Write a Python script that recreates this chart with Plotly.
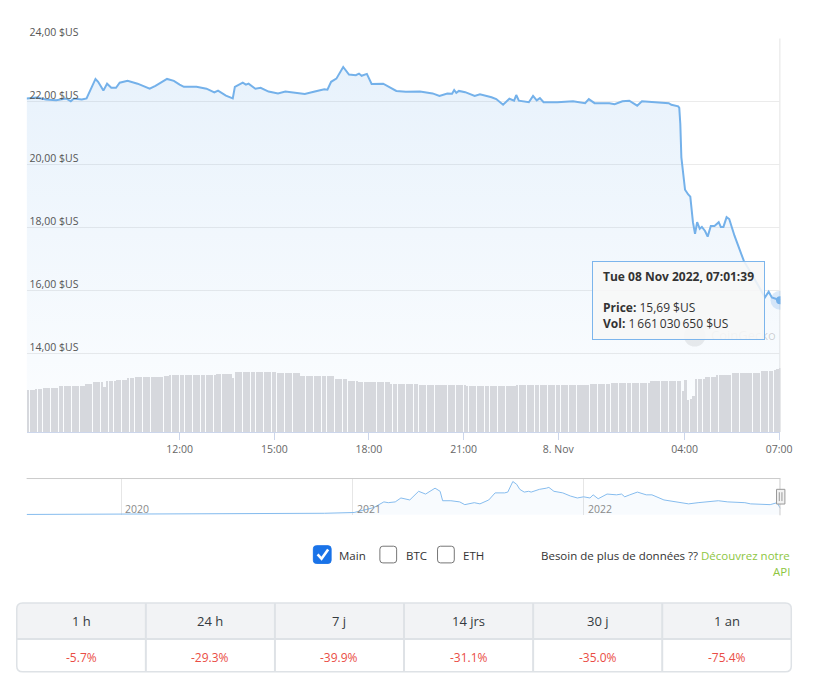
import numpy as np
import pandas as pd
import plotly.graph_objects as go

W, H = 824, 687
FONT = "Open Sans, Noto Sans, DejaVu Sans, sans-serif"
LINE = "#74b1ea"

# ---------------- data ----------------
price_day7 = "2022-11-07"
price_times_d7 = ["07:09", "07:28", "07:46", "08:05", "08:24", "08:33", "08:39", "08:54", "09:03", "09:12",
                  "09:20", "09:25", "09:35", "09:42", "09:50", "09:59", "10:06", "10:21", "10:40", "11:03",
                  "11:14", "11:36", "11:49", "12:00", "12:08", "12:32", "12:51", "13:06", "13:13", "13:28",
                  "13:41", "13:45", "14:00", "14:06", "14:11", "14:24", "14:34", "14:49", "15:07", "15:21",
                  "15:39", "15:58", "16:17", "16:35", "16:41", "16:48", "16:58", "17:03", "17:11", "17:22",
                  "17:35", "17:41", "17:46", "17:56", "18:05", "18:27", "18:52", "19:10", "19:37", "20:01",
                  "20:14", "20:29", "20:38", "20:42", "20:46", "20:51", "21:03", "21:21", "21:31", "21:53",
                  "22:02", "22:15", "22:27", "22:36", "22:40", "22:45", "23:04", "23:12", "23:19", "23:25",
                  "23:32", "23:58"]
price_values_d7 = [22.10, 22.13, 22.07, 22.04, 22.10, 22.01, 22.10, 22.07, 22.10, 22.41,
                   22.72, 22.63, 22.35, 22.57, 22.44, 22.44, 22.60, 22.66, 22.57, 22.41,
                   22.50, 22.72, 22.66, 22.54, 22.47, 22.47, 22.41, 22.29, 22.35, 22.19,
                   22.10, 22.47, 22.60, 22.54, 22.57, 22.41, 22.44, 22.32, 22.26, 22.32,
                   22.29, 22.24, 22.32, 22.39, 22.38, 22.63, 22.73, 22.89, 23.10, 22.86,
                   22.84, 22.89, 22.82, 22.88, 22.56, 22.57, 22.34, 22.31, 22.32, 22.26,
                   22.18, 22.26, 22.25, 22.37, 22.28, 22.34, 22.30, 22.18, 22.23, 22.14,
                   22.08, 21.90, 22.09, 22.03, 22.21, 22.03, 21.98, 22.18, 22.04, 22.11,
                   21.98, 21.98]
price_day8 = "2022-11-08"
price_times_d8 = ["00:28", "00:51", "00:58", "01:09", "01:37", "01:47", "02:02", "02:15", "02:30", "02:39",
                  "03:05", "03:30", "03:35", "03:45", "03:48", "03:50", "03:52", "03:54", "03:58", "04:01",
                  "04:07", "04:11", "04:16", "04:20", "04:24", "04:29", "04:33", "04:39", "04:44", "04:50",
                  "04:57", "05:05", "05:09", "05:14", "05:20", "05:25", "05:35", "05:44", "05:53", "06:10",
                  "06:27", "06:33", "06:40", "06:46", "07:01:39"]
price_values_d8 = [22.01, 21.95, 22.08, 21.95, 21.95, 21.92, 22.01, 22.03, 21.87, 22.01,
                   21.98, 21.95, 21.90, 21.87, 21.85, 21.80, 21.29, 20.23, 19.61, 19.20,
                   19.05, 18.98, 18.17, 17.80, 18.17, 17.96, 18.02, 17.89, 17.71, 18.05,
                   18.05, 18.17, 18.02, 18.02, 18.33, 18.27, 17.74, 17.33, 16.93, 16.46,
                   15.93, 15.78, 15.96, 15.78, 15.69]

# 24h volume (millions $US), 5-minute bars, given as runs of equal height
vol_run_counts = [4, 3, 6, 4, 6, 3, 4, 1, 4, 4, 3, 11, 2, 18, 6, 1, 16, 9, 13, 5, 4, 12, 11, 8, 10,
                  19, 28, 8, 15, 12, 1, 1, 1, 1, 1, 4, 4, 6, 5, 6, 5, 1, 1, 1]
vol_run_values = [1092, 1107, 1132, 1192, 1200, 1242, 1282, 1175, 1325, 1350, 1392, 1425, 1450, 1467,
                  1500, 1408, 1550, 1517, 1442, 1367, 1325, 1300, 1250, 1225, 1207, 1192, 1217, 1250,
                  1275, 1307, 1050, 1342, 825, 857, 942, 1375, 1425, 1467, 1525, 1525, 1575, 1610,
                  1632, 1661.03065]
vol_last_time = "2022-11-08 07:01:39"

# navigator (full history)
nav_dates = ["2019-08-04", "2020-01-01", "2020-04-28", "2020-08-31", "2020-11-17", "2021-01-03",
             "2021-02-03", "2021-02-19", "2021-02-26", "2021-03-09", "2021-03-18", "2021-04-01",
             "2021-04-15", "2021-04-26", "2021-05-11", "2021-05-19", "2021-05-23", "2021-06-05",
             "2021-06-19", "2021-06-27", "2021-07-12", "2021-07-21", "2021-08-04", "2021-08-14",
             "2021-08-29", "2021-09-03", "2021-09-11", "2021-09-17", "2021-09-22", "2021-09-29",
             "2021-10-06", "2021-10-10", "2021-10-23", "2021-11-03", "2021-11-07", "2021-11-15",
             "2021-11-29", "2021-12-11", "2021-12-22", "2022-01-01", "2022-01-11", "2022-01-16",
             "2022-01-24", "2022-02-07", "2022-02-22", "2022-03-02", "2022-03-07", "2022-03-15",
             "2022-03-27", "2022-04-10", "2022-04-19", "2022-05-08", "2022-05-27", "2022-06-16",
             "2022-07-01", "2022-07-17", "2022-08-02", "2022-08-17", "2022-09-13", "2022-09-22",
             "2022-10-23", "2022-11-03", "2022-11-08 07:01:39"]
nav_values = [1.0, 1.5, 2.0, 3.5, 4.0, 6.0,
              18.5, 33, 31, 33, 43, 38,
              60, 53, 68, 60, 36, 36,
              33, 26, 31, 28, 38, 56,
              56, 58, 85, 78, 65, 58,
              60, 58, 65, 68, 70, 60,
              56, 48, 43, 46, 43, 51,
              41, 53, 51, 53, 46, 51,
              58, 51, 51, 38, 33, 28,
              31, 33, 36, 33, 31, 28,
              26, 31, 16]
nav_years = ["2020", "2021", "2022"]

y_tickvals = [14, 16, 18, 20, 22, 24]
y_ticktext = ["14,00 $US", "16,00 $US", "18,00 $US", "20,00 $US", "22,00 $US", "24,00 $US"]
x_tickvals = ["2022-11-07 12:00", "2022-11-07 15:00", "2022-11-07 18:00", "2022-11-07 21:00",
              "2022-11-08 00:00", "2022-11-08 04:00", "2022-11-08 07:00"]
x_ticktext = ["12:00", "15:00", "18:00", "21:00", "8. Nov", "04:00", "07:00"]

series_options = ["Main", "BTC", "ETH"]
series_checked = [True, False, False]

periods = ["1 h", "24 h", "7 j", "14 jrs", "30 j", "1 an"]
changes = [-5.7, -29.3, -39.9, -31.1, -35.0, -75.4]

# ---------------- build ----------------
price_x = [f"{price_day7} {t}" for t in price_times_d7] + [f"{price_day8} {t}" for t in price_times_d8]
price_y = price_values_d7 + price_values_d8
vol_vals = np.repeat(vol_run_values, vol_run_counts)
vol_x = pd.date_range(end=vol_last_time, periods=len(vol_vals), freq="5min")


def px(x):
    return x / W


def py(y):
    return 1 - y / H


fig = go.Figure()
fig.add_trace(go.Scatter(
    x=price_x, y=price_y, mode="lines", line=dict(color=LINE, width=2),
    fill="tozeroy",
    fillgradient=dict(type="vertical", start=11.5, stop=22.6,
                      colorscale=[[0, "rgba(124,181,236,0.02)"], [1, "rgba(124,181,236,0.17)"]]),
    hoverinfo="skip"))
fig.add_trace(go.Bar(x=vol_x, y=vol_vals, yaxis="y2", width=205000,
                     marker=dict(color="#d6d8dd", line=dict(width=0)), hoverinfo="skip"))
fig.add_trace(go.Scatter(x=[price_x[-1]], y=[price_y[-1]], mode="markers",
                         marker=dict(size=19, color="rgba(124,181,236,0.28)"), hoverinfo="skip"))
fig.add_trace(go.Scatter(x=[price_x[-1]], y=[price_y[-1]], mode="markers",
                         marker=dict(size=8, color=LINE), hoverinfo="skip"))
fig.add_trace(go.Scatter(x=nav_dates, y=nav_values, xaxis="x2", yaxis="y3", mode="lines",
                         line=dict(color="#86bcee", width=1), fill="tozeroy",
                         fillcolor="rgba(124,181,236,0.05)", hoverinfo="skip"))

shapes = []
annotations = []


def line(x0, y0, x1, y1, color, width=1):
    shapes.append(dict(type="line", xref="paper", yref="paper", x0=px(x0), y0=py(y0), x1=px(x1), y1=py(y1),
                       line=dict(color=color, width=width), layer="above"))


def rrect_path(x0, y0, x1, y1, r, top_only=False):
    rb = 0 if top_only else r
    return (f"M {px(x0 + r)},{py(y0)} L {px(x1 - r)},{py(y0)} Q {px(x1)},{py(y0)} {px(x1)},{py(y0 + r)} "
            f"L {px(x1)},{py(y1 - rb)} Q {px(x1)},{py(y1)} {px(x1 - rb)},{py(y1)} "
            f"L {px(x0 + rb)},{py(y1)} Q {px(x0)},{py(y1)} {px(x0)},{py(y1 - rb)} "
            f"L {px(x0)},{py(y0 + r)} Q {px(x0)},{py(y0)} {px(x0 + r)},{py(y0)} Z")


def ann(x, y, text, size, color, xanchor="left", yanchor="middle", **kw):
    annotations.append(dict(x=px(x), y=py(y), xref="paper", yref="paper", text=text, showarrow=False,
                            xanchor=xanchor, yanchor=yanchor,
                            font=dict(family=FONT, size=size, color=color), **kw))


# crosshair at hovered point
shapes.append(dict(type="line", xref="x", yref="y domain", x0=price_x[-1], x1=price_x[-1], y0=0, y1=1,
                   line=dict(color="#d9d9d9", width=1), layer="below"))

# watermark logo circle + text (mostly behind the tooltip)
shapes.append(dict(type="circle", xref="paper", yref="paper", x0=px(694), x1=px(716), y0=py(318), y1=py(340),
                   fillcolor="rgba(0,0,0,0.07)", line=dict(width=0), layer="above"))
ann(789, 328, "CoinGecko", 13, "rgba(0,0,0,0.18)", xanchor="right")

# tooltip
last_ts = pd.Timestamp(price_x[-1])
price_txt = f"{price_y[-1]:.2f}".replace(".", ",") + " $US"
vol_txt = f"{int(round(vol_vals[-1] * 1e6)):,}".replace(",", "\u2009") + " $US"
annotations.append(dict(x=px(688.5), y=py(293), xref="paper", yref="paper", text=" ", showarrow=False,
                        width=171, height=77, bgcolor="rgba(247,247,247,0.88)", bordercolor="#7cb5ec",
                        borderwidth=1, borderpad=0, xanchor="center", yanchor="middle"))
ann(610, 268.5, "<b>" + last_ts.strftime("%a %d %b %Y, %H:%M:%S") + "</b>", 12, "#333333")
ann(610, 300, "<b>Price:</b> " + price_txt, 12, "#333333")
ann(610, 316, "<b>Vol:</b> " + vol_txt, 12, "#333333")

# navigator frame
line(27, 474.5, 792, 474.5, "#cccccc", 1)
line(791.5, 474.5, 791.5, 512, "#cccccc", 1)
shapes.append(dict(type="rect", xref="paper", yref="paper", x0=px(788), x1=px(796.5), y0=py(485.5), y1=py(500.5),
                   fillcolor="#f2f2f2", line=dict(color="#999999", width=1), layer="above"))
line(790.8, 488.5, 790.8, 497.5, "#999999", 1)
line(793.5, 488.5, 793.5, 497.5, "#999999", 1)
for yr in nav_years:
    annotations.append(dict(x=f"{yr}-01-01", y=py(505.5), xref="x2", yref="paper", text=yr, showarrow=False,
                            xanchor="left", yanchor="middle", xshift=2,
                            font=dict(family=FONT, size=10.5, color="#8a8a8a")))

# checkboxes
cb_x = [318, 385.5, 444]
for name, checked, x0 in zip(series_options, series_checked, cb_x):
    if checked:
        shapes.append(dict(type="path", xref="paper", yref="paper", path=rrect_path(x0, 543, x0 + 18, 561, 3),
                           fillcolor="#1a73e8", line=dict(color="#1a73e8", width=1), layer="above"))
        shapes.append(dict(type="path", xref="paper", yref="paper",
                           path=f"M {px(x0 + 4.3)},{py(551.8)} L {px(x0 + 8.3)},{py(556.3)} L {px(x0 + 15)},{py(546.8)}",
                           line=dict(color="white", width=2.6), layer="above"))
    else:
        shapes.append(dict(type="path", xref="paper", yref="paper", path=rrect_path(x0, 543.5, x0 + 17, 560.5, 3),
                           fillcolor="white", line=dict(color="#767676", width=1), layer="above"))
    ann(x0 + 24, 552.5, name, 11.5, "#333333")

ann(804, 552.5, "Besoin de plus de données ?? <span style='color:#8dc63f'>Découvrez notre</span>",
    11.5, "#333333", xanchor="right")
ann(804, 569.5, "API", 11.5, "#8dc63f", xanchor="right")

# performance table
tx0, tx1, ty0, tmid, ty1 = 17, 803, 601.5, 638, 671.5
shapes.append(dict(type="path", xref="paper", yref="paper", path=rrect_path(tx0, ty0, tx1, tmid, 6, top_only=True),
                   fillcolor="#f2f3f5", line=dict(width=0), layer="above"))
shapes.append(dict(type="path", xref="paper", yref="paper", path=rrect_path(tx0, ty0, tx1, ty1, 6),
                   fillcolor="rgba(0,0,0,0)", line=dict(color="#dee2e6", width=1.5), layer="above"))
line(tx0, tmid, tx1, tmid, "#dee2e6", 2)
colw = (tx1 - tx0) / len(periods)
for i, (p, c) in enumerate(zip(periods, changes)):
    if i > 0:
        line(tx0 + i * colw, ty0, tx0 + i * colw, ty1, "#dee2e6", 2)
    cx = tx0 + (i + 0.5) * colw
    ann(cx, 620, p, 13, "#343a40", xanchor="center")
    ann(cx, 656.5, f"{c:.1f}%", 12, "#ea4d45", xanchor="center")

fig.update_layout(
    width=W, height=H, margin=dict(l=0, r=0, t=0, b=0), autosize=False,
    paper_bgcolor="white", plot_bgcolor="rgba(0,0,0,0)", showlegend=False, hovermode=False,
    font=dict(family=FONT),
    bargap=0,
    xaxis=dict(domain=[px(27), px(792)], type="date",
               range=["2022-11-07 07:09:00", "2022-11-08 07:02:26"],
               tickvals=x_tickvals, ticktext=x_ticktext, showgrid=False, zeroline=False,
               showline=True, linecolor="#ccd6eb", linewidth=1, ticks="outside", ticklen=7,
               tickcolor="#ccd6eb", tickfont=dict(family=FONT, size=10.5, color="#666666"), anchor="y"),
    yaxis=dict(domain=[py(427), py(26)], range=[11.505, 24.005], tickvals=y_tickvals, ticktext=y_ticktext,
               ticklabelposition="inside", ticklabelshift=-6, ticklabelstandoff=0, ticklabeloverflow="allow",
               showgrid=True, gridcolor="#ebebeb", gridwidth=1, zeroline=False, showline=False, ticks="",
               tickfont=dict(family=FONT, size=10.5, color="#555555"), anchor="x"),
    yaxis2=dict(overlaying="y", range=[0, 10092], visible=False, showgrid=False, zeroline=False),
    xaxis2=dict(domain=[px(27), px(792)], type="date", range=["2019-08-04", "2022-11-08 07:01:39"],
                tickvals=[f"{y}-01-01" for y in nav_years], showticklabels=False, showgrid=True,
                gridcolor="#e6e6e6", zeroline=False, showline=False, ticks="", anchor="y3"),
    yaxis3=dict(domain=[py(512), py(474.5)], range=[-1.2, 92.6], visible=False, showgrid=False,
                zeroline=False, anchor="x2"),
    shapes=shapes, annotations=annotations,
)

fig.write_html("out.html")
